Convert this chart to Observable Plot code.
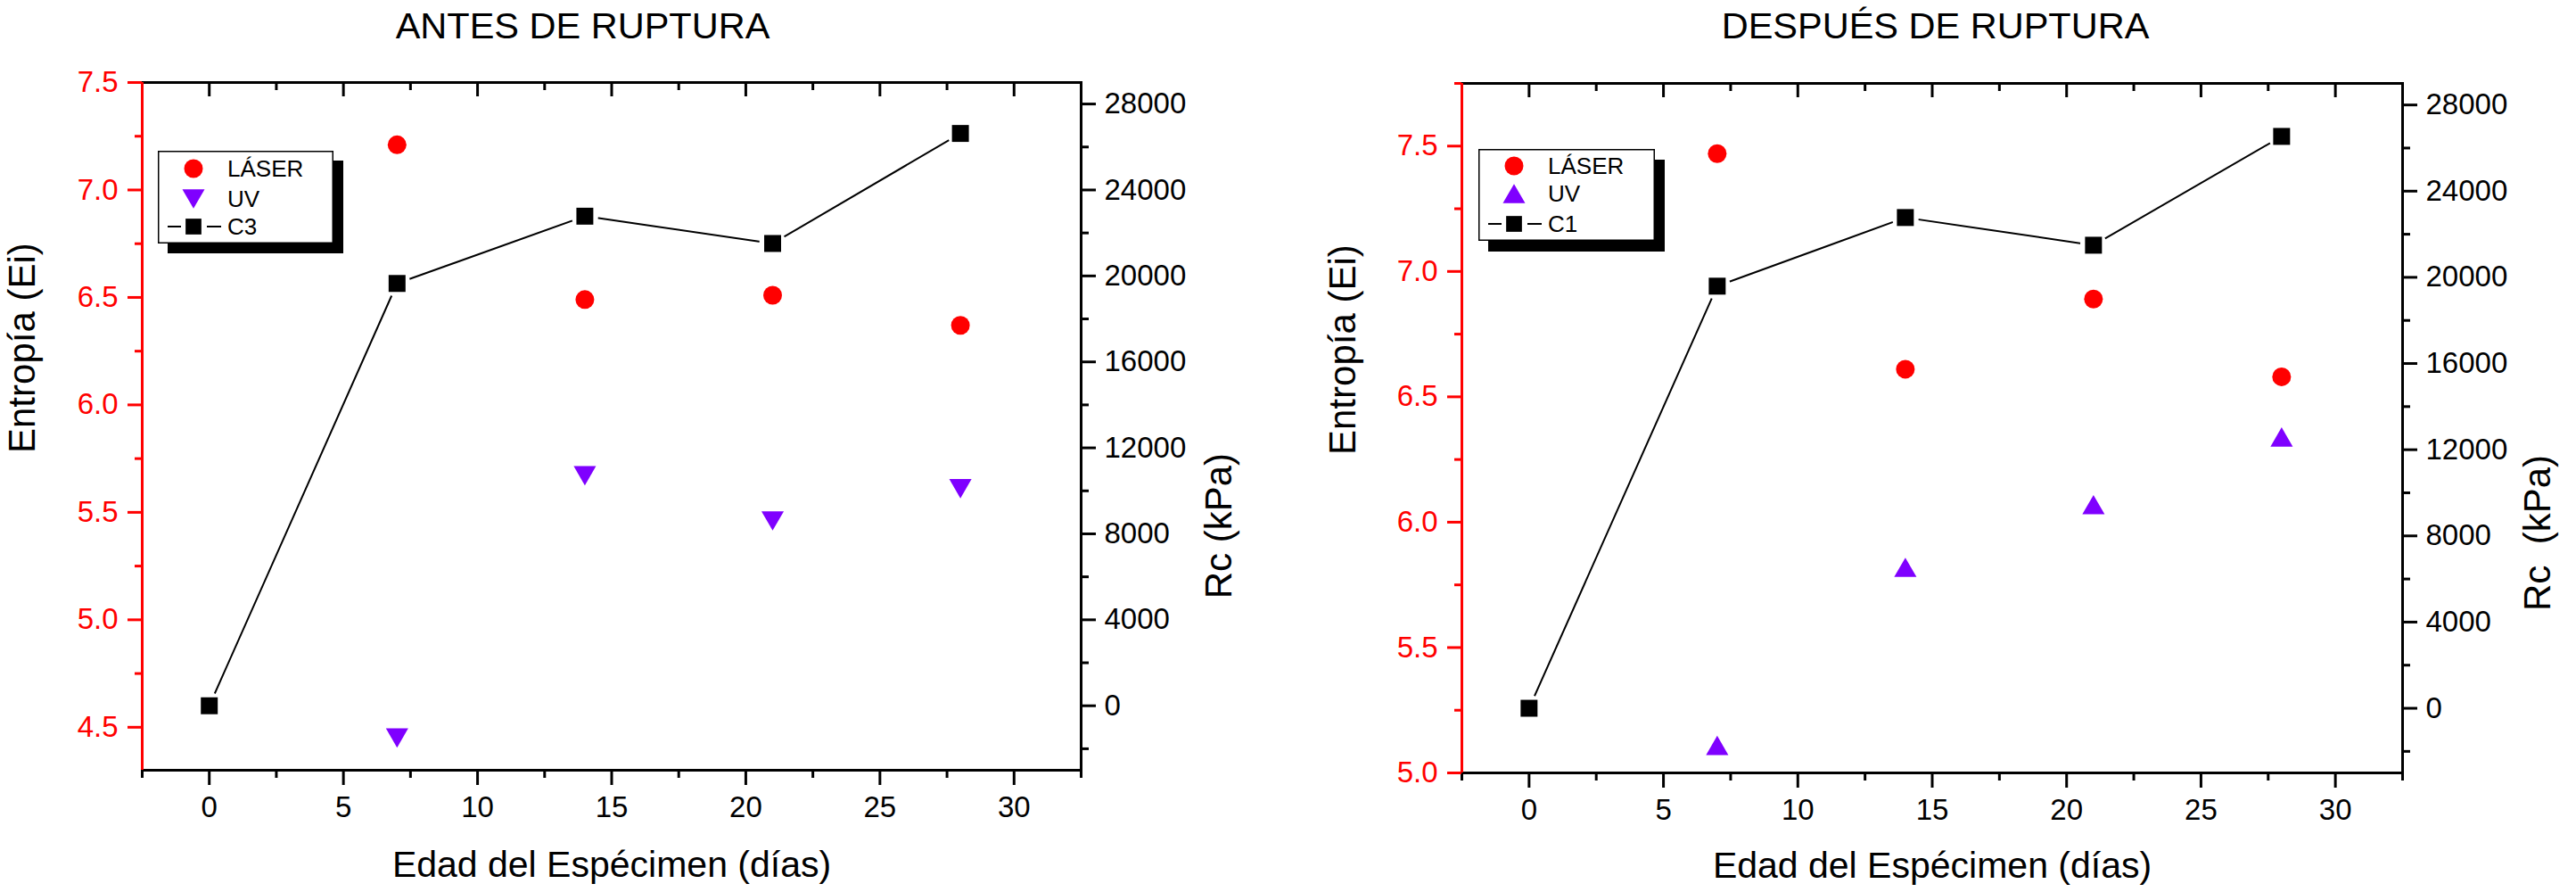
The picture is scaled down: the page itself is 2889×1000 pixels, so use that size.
<!DOCTYPE html>
<html>
<head>
<meta charset="utf-8">
<script src="https://cdn.jsdelivr.net/npm/d3@7"></script>
<script src="https://cdn.jsdelivr.net/npm/@observablehq/plot@0.6"></script>
<style>
  body { margin: 0; background: #fff; }
  #root { position: relative; width: 2889px; height: 1000px; font-family: "Liberation Sans", Arial, sans-serif; }
  .panel { position: absolute; top: 0; height: 1000px; }
  .layer { position: absolute; left: 0; top: 0; }
  svg text { white-space: pre; }
</style>
</head>
<body>
<div id="root"></div>
<script>
// ---------- data ----------
const days = [0, 7, 14, 21, 28];
const entropyDays = [7, 14, 21, 28];

const antesLaser = [7.21, 6.49, 6.51, 6.37];
const antesUV = [4.45, 5.67, 5.46, 5.61];
const antesRc = [0, 19650, 22780, 21510, 26630];

const despuesLaser = [7.47, 6.61, 6.89, 6.58];
const despuesUV = [5.11, 5.82, 6.07, 6.34];
const despuesRc = [0, 19590, 22775, 21490, 26540];

const legendAntes = ["LÁSER", "UV", "C3"];
const legendDespues = ["LÁSER", "UV", "C1"];

const xDomain = [-2.5, 32.5];
const xTicks = [0, 5, 10, 15, 20, 25, 30];
const xMinorTicks = [-2.5, 2.5, 7.5, 12.5, 17.5, 22.5, 27.5, 32.5];

const rcDomain = [-3000, 29000];
const rcTicks = [0, 4000, 8000, 12000, 16000, 20000, 24000, 28000];
const rcMinorTicks = [-2000, 2000, 6000, 10000, 14000, 18000, 22000, 26000];

const eiDomainAntes = [4.3, 7.5];
const eiTicksAntes = [4.5, 5.0, 5.5, 6.0, 6.5, 7.0, 7.5];
const eiMinorAntes = [4.75, 5.25, 5.75, 6.25, 6.75, 7.25];

const eiDomainDespues = [5.0, 7.75];
const eiTicksDespues = [5.0, 5.5, 6.0, 6.5, 7.0, 7.5];
const eiMinorDespues = [5.25, 5.75, 6.25, 6.75, 7.25, 7.75];

// ---------- styles ----------
const FONT = '"Liberation Sans", Arial, sans-serif';
const RED = "#ff0000";
const PURPLE = "#7f00ff";

const triDown = {
  draw(ctx, size) {
    const s = Math.sqrt(4 * size / Math.sqrt(3)), h = s * Math.sqrt(3) / 2;
    ctx.moveTo(-s / 2, -h / 2); ctx.lineTo(s / 2, -h / 2); ctx.lineTo(0, h / 2); ctx.closePath();
  }
};
const triUp = {
  draw(ctx, size) {
    const s = Math.sqrt(4 * size / Math.sqrt(3)), h = s * Math.sqrt(3) / 2;
    ctx.moveTo(0, -h / 2); ctx.lineTo(s / 2, h / 2); ctx.lineTo(-s / 2, h / 2); ctx.closePath();
  }
};

const R_CIRCLE = 10.5, R_TRI = 9.3, R_SQ = 10.7;

function panel(cfg) {
  const root = document.getElementById("root");
  const div = document.createElement("div");
  div.className = "panel";
  div.style.left = cfg.left + "px";
  div.style.width = cfg.width + "px";
  root.appendChild(div);

  const common = {
    width: cfg.width, height: 1000,
    marginLeft: cfg.ml, marginRight: cfg.mr, marginTop: cfg.mt, marginBottom: cfg.mb,
    style: { background: "none", fontFamily: FONT, maxWidth: "none", overflow: "visible", color: "black" }
  };

  const laser = cfg.laser.map((v, i) => ({ day: entropyDays[i], ei: v }));
  const uv = cfg.uv.map((v, i) => ({ day: entropyDays[i], ei: v }));
  const rc = cfg.rc.map((v, i) => ({ day: days[i], rc: v }));

  const A = Plot.plot({
    ...common,
    x: { domain: xDomain },
    y: { domain: cfg.eiDomain },
    marks: [
      Plot.frame({ stroke: "black", strokeWidth: 3 }),
      Plot.axisX({ ticks: xTicks, tickSize: 17, tickPadding: 12, strokeWidth: 3, fontSize: 33, tickFormat: d => String(d), label: null }),
      Plot.axisX({ ticks: xMinorTicks, tickSize: 9, strokeWidth: 3, fill: "none", label: null }),
      Plot.axisX({ anchor: "top", ticks: xTicks, tickSize: -15, strokeWidth: 3, fill: "none", label: null }),
      Plot.axisX({ anchor: "top", ticks: xMinorTicks, tickSize: -8, strokeWidth: 3, fill: "none", label: null }),
      Plot.ruleX([xDomain[0]], { stroke: RED, strokeWidth: 3 }),
      Plot.axisY({ ticks: cfg.eiTicks, tickSize: 16, tickPadding: 11, strokeWidth: 3, color: RED, fontSize: 33, tickFormat: d3.format(".1f"), label: null }),
      Plot.axisY({ ticks: cfg.eiMinor, tickSize: 8, strokeWidth: 3, stroke: RED, fill: "none", label: null }),
      Plot.dot(laser, { x: "day", y: "ei", r: R_CIRCLE, fill: RED, symbol: "circle" }),
      Plot.dot(uv, { x: "day", y: "ei", r: R_TRI, fill: PURPLE, symbol: cfg.uvSymbol }),
      Plot.text([cfg.title], { text: d => d, frameAnchor: "top", dx: cfg.titleDx, dy: cfg.titleDy, lineAnchor: "bottom", fontSize: 41.5 }),
      Plot.text(["Edad del Espécimen (días)"], { text: d => d, frameAnchor: "bottom", dy: cfg.xLabelDy, lineAnchor: "bottom", fontSize: 41 }),
      Plot.text(["Entropía (Ei)"], { text: d => d, frameAnchor: "left", dx: cfg.eiDx, dy: 30, rotate: -90, lineAnchor: "middle", fontSize: 42 })
    ]
  });
  A.classList.add("layer");
  div.appendChild(A);

  const B = Plot.plot({
    ...common,
    x: { domain: xDomain, axis: null },
    y: { domain: rcDomain },
    marks: [
      Plot.axisY({ anchor: "right", ticks: rcTicks, tickSize: 16, tickPadding: 10, strokeWidth: 3, fontSize: 33, tickFormat: d => String(d), label: null }),
      Plot.axisY({ anchor: "right", ticks: rcMinorTicks, tickSize: 8, strokeWidth: 3, fill: "none", label: null }),
      Plot.line(rc, { x: "day", y: "rc", stroke: "black", strokeWidth: 2 }),
      Plot.dot(rc, { x: "day", y: "rc", r: 15, fill: "white", symbol: "circle" }),
      Plot.dot(rc, { x: "day", y: "rc", r: R_SQ, fill: "black", symbol: "square" }),
      Plot.text([cfg.rcLabel], { text: d => d, frameAnchor: "right", dx: cfg.rcDx, dy: 30, rotate: -90, lineAnchor: "middle", fontSize: 42 })
    ]
  });
  B.classList.add("layer");
  div.appendChild(B);

  // legend
  const L = cfg.legend;
  const svg = d3.select(div).append("svg")
    .attr("width", L.w + L.sx + 2).attr("height", L.h + L.sy + 2)
    .style("position", "absolute").style("left", L.left + "px").style("top", L.top + "px")
    .style("font-family", FONT);
  svg.append("rect").attr("x", L.sx).attr("y", L.sy).attr("width", L.w).attr("height", L.h).attr("fill", "#000");
  svg.append("rect").attr("x", 0.75).attr("y", 0.75).attr("width", L.w - 1.5).attr("height", L.h - 1.5)
    .attr("fill", "#fff").attr("stroke", "#000").attr("stroke-width", 1.5);
  const entries = [
    { label: cfg.legendLabels[0], symbol: d3.symbolCircle, size: Math.PI * R_CIRCLE * R_CIRCLE, color: RED },
    { label: cfg.legendLabels[1], symbol: cfg.uvSymbol, size: Math.PI * R_TRI * R_TRI, color: PURPLE },
    { label: cfg.legendLabels[2], symbol: d3.symbolSquare, size: Math.PI * 10 * 10, color: "#000", line: true }
  ];
  entries.forEach((e, i) => {
    const g = svg.append("g").attr("transform", `translate(${L.symX},${L.rows[i]})`);
    if (e.line) {
      g.append("line").attr("x1", -29).attr("x2", -14).attr("stroke", "#000").attr("stroke-width", 2);
      g.append("line").attr("x1", 15).attr("x2", 31).attr("stroke", "#000").attr("stroke-width", 2);
    }
    g.append("path").attr("d", d3.symbol(e.symbol, e.size)()).attr("fill", e.color);
    svg.append("text").attr("x", L.textX).attr("y", L.rows[i]).attr("dy", "0.35em")
      .attr("font-size", 26).attr("fill", "#000").text(e.label);
  });
}

panel({
  left: 0, width: 1445, ml: 159, mr: 233, mt: 92, mb: 137,
  title: "ANTES DE RUPTURA", titleDx: -32.5, titleDy: -50, xLabelDy: 119,
  eiDx: -134, rcDx: 155, rcLabel: "Rc (kPa)",
  laser: antesLaser, uv: antesUV, rc: antesRc,
  eiDomain: eiDomainAntes, eiTicks: eiTicksAntes, eiMinor: eiMinorAntes,
  uvSymbol: triDown, legendLabels: legendAntes,
  legend: { left: 177, top: 169, w: 197, h: 104, sx: 11, sy: 11, symX: 40, textX: 78, rows: [20, 54, 85] }
});

panel({
  left: 1445, width: 1444, ml: 194, mr: 195, mt: 93, mb: 134,
  title: "DESPUÉS DE RUPTURA", titleDx: 3.5, titleDy: -51, xLabelDy: 117,
  eiDx: -133, rcDx: 152, rcLabel: "Rc  (kPa)",
  laser: despuesLaser, uv: despuesUV, rc: despuesRc,
  eiDomain: eiDomainDespues, eiTicks: eiTicksDespues, eiMinor: eiMinorDespues,
  uvSymbol: triUp, legendLabels: legendDespues,
  legend: { left: 213, top: 167, w: 198, h: 103, sx: 11, sy: 12, symX: 40, textX: 78, rows: [19, 50, 84] }
});
</script>
</body>
</html>
